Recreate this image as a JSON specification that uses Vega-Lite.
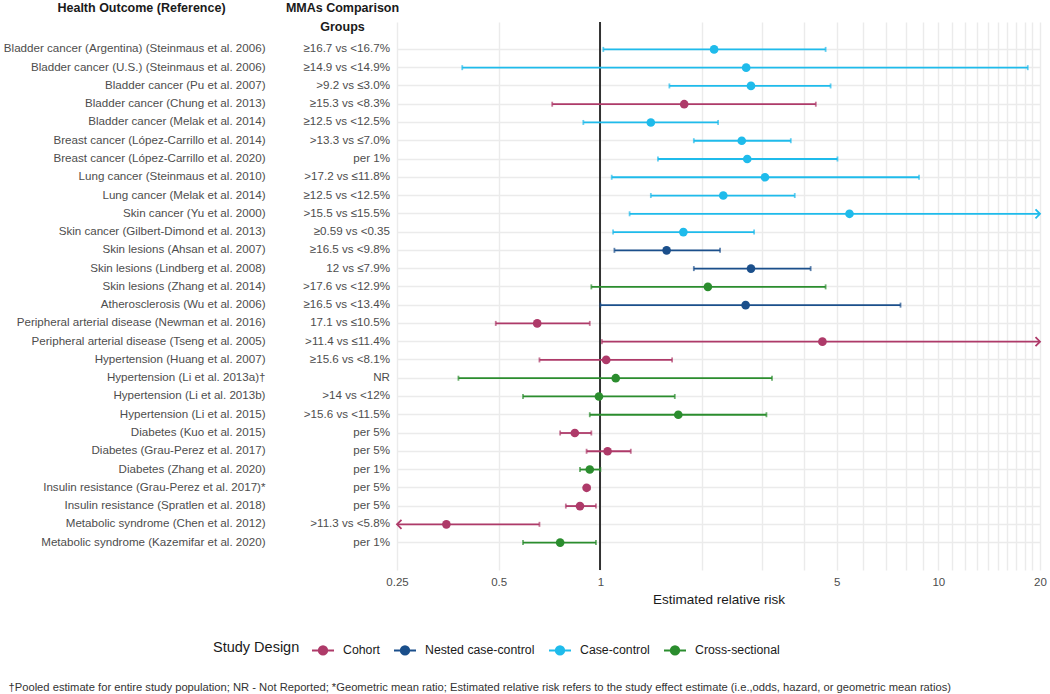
{
  "$schema": "https://vega.github.io/schema/vega-lite/v6.json",
  "width": 643,
  "height": 548,
  "autosize": {"type": "none"},
  "padding": {"left": 397, "top": 22, "right": 10, "bottom": 124},
  "background": "white",
  "config": {"font": "Liberation Sans", "view": {"stroke": null}},
  "data": {
    "values": [
      {"row": 1, "outcome": "Bladder cancer (Argentina) (Steinmaus et al. 2006)", "comparison": "≥16.7 vs <16.7%", "design": "Case-control", "est": 2.17, "lo": 1.02, "hi": 4.64},
      {"row": 2, "outcome": "Bladder cancer (U.S.) (Steinmaus et al. 2006)", "comparison": "≥14.9 vs <14.9%", "design": "Case-control", "est": 2.70, "lo": 0.39, "hi": 18.4},
      {"row": 3, "outcome": "Bladder cancer (Pu et al. 2007)", "comparison": ">9.2 vs ≤3.0%", "design": "Case-control", "est": 2.79, "lo": 1.60, "hi": 4.80},
      {"row": 4, "outcome": "Bladder cancer (Chung et al. 2013)", "comparison": "≥15.3 vs <8.3%", "design": "Cohort", "est": 1.77, "lo": 0.72, "hi": 4.34},
      {"row": 5, "outcome": "Bladder cancer (Melak et al. 2014)", "comparison": "≥12.5 vs <12.5%", "design": "Case-control", "est": 1.41, "lo": 0.89, "hi": 2.23},
      {"row": 6, "outcome": "Breast cancer (López-Carrillo et al. 2014)", "comparison": ">13.3 vs ≤7.0%", "design": "Case-control", "est": 2.62, "lo": 1.89, "hi": 3.66},
      {"row": 7, "outcome": "Breast cancer (López-Carrillo et al. 2020)", "comparison": "per 1%", "design": "Case-control", "est": 2.72, "lo": 1.48, "hi": 5.03},
      {"row": 8, "outcome": "Lung cancer (Steinmaus et al. 2010)", "comparison": ">17.2 vs ≤11.8%", "design": "Case-control", "est": 3.07, "lo": 1.08, "hi": 8.77},
      {"row": 9, "outcome": "Lung cancer (Melak et al. 2014)", "comparison": "≥12.5 vs <12.5%", "design": "Case-control", "est": 2.31, "lo": 1.41, "hi": 3.76},
      {"row": 10, "outcome": "Skin cancer (Yu et al. 2000)", "comparison": ">15.5 vs ≤15.5%", "design": "Case-control", "est": 5.46, "lo": 1.22, "hi": 25.0},
      {"row": 11, "outcome": "Skin cancer (Gilbert-Dimond et al. 2013)", "comparison": "≥0.59 vs <0.35", "design": "Case-control", "est": 1.76, "lo": 1.09, "hi": 2.85},
      {"row": 12, "outcome": "Skin lesions (Ahsan et al. 2007)", "comparison": "≥16.5 vs <9.8%", "design": "Nested case-control", "est": 1.57, "lo": 1.10, "hi": 2.26},
      {"row": 13, "outcome": "Skin lesions (Lindberg et al. 2008)", "comparison": "12 vs ≤7.9%", "design": "Nested case-control", "est": 2.79, "lo": 1.89, "hi": 4.19},
      {"row": 14, "outcome": "Skin lesions (Zhang et al. 2014)", "comparison": ">17.6 vs <12.9%", "design": "Cross-sectional", "est": 2.08, "lo": 0.94, "hi": 4.64},
      {"row": 15, "outcome": "Atherosclerosis (Wu et al. 2006)", "comparison": "≥16.5 vs <13.4%", "design": "Nested case-control", "est": 2.69, "lo": 1.00, "hi": 7.73},
      {"row": 16, "outcome": "Peripheral arterial disease (Newman et al. 2016)", "comparison": "17.1 vs ≤10.5%", "design": "Cohort", "est": 0.65, "lo": 0.49, "hi": 0.93},
      {"row": 17, "outcome": "Peripheral arterial disease (Tseng et al. 2005)", "comparison": ">11.4 vs ≤11.4%", "design": "Cohort", "est": 4.54, "lo": 1.01, "hi": 22.0},
      {"row": 18, "outcome": "Hypertension (Huang et al. 2007)", "comparison": "≥15.6 vs <8.1%", "design": "Cohort", "est": 1.04, "lo": 0.66, "hi": 1.63},
      {"row": 19, "outcome": "Hypertension (Li et al. 2013a)†", "comparison": "NR", "design": "Cross-sectional", "est": 1.11, "lo": 0.38, "hi": 3.22},
      {"row": 20, "outcome": "Hypertension (Li et al. 2013b)", "comparison": ">14 vs <12%", "design": "Cross-sectional", "est": 0.99, "lo": 0.59, "hi": 1.66},
      {"row": 21, "outcome": "Hypertension (Li et al. 2015)", "comparison": ">15.6 vs <11.5%", "design": "Cross-sectional", "est": 1.70, "lo": 0.93, "hi": 3.10},
      {"row": 22, "outcome": "Diabetes (Kuo et al. 2015)", "comparison": "per 5%", "design": "Cohort", "est": 0.84, "lo": 0.76, "hi": 0.94},
      {"row": 23, "outcome": "Diabetes (Grau-Perez et al. 2017)", "comparison": "per 5%", "design": "Cohort", "est": 1.05, "lo": 0.91, "hi": 1.23},
      {"row": 24, "outcome": "Diabetes (Zhang et al. 2020)", "comparison": "per 1%", "design": "Cross-sectional", "est": 0.93, "lo": 0.87, "hi": 1.00},
      {"row": 25, "outcome": "Insulin resistance (Grau-Perez et al. 2017)*", "comparison": "per 5%", "design": "Cohort", "est": 0.91, "lo": 0.90, "hi": 0.93},
      {"row": 26, "outcome": "Insulin resistance (Spratlen et al. 2018)", "comparison": "per 5%", "design": "Cohort", "est": 0.87, "lo": 0.79, "hi": 0.97},
      {"row": 27, "outcome": "Metabolic syndrome (Chen et al. 2012)", "comparison": ">11.3 vs <5.8%", "design": "Cohort", "est": 0.35, "lo": 0.20, "hi": 0.66},
      {"row": 28, "outcome": "Metabolic syndrome (Kazemifar et al. 2020)", "comparison": "per 1%", "design": "Cross-sectional", "est": 0.76, "lo": 0.59, "hi": 0.97}
    ]
  },
  "layer": [
    {
      "layer": [
        {
          "mark": {"type": "rule", "color": "#333333", "strokeWidth": 1},
          "encoding": {
            "x": {
              "datum": 1,
              "type": "quantitative",
              "scale": {"type": "log", "domain": [0.25, 20], "clamp": true, "nice": false, "zero": false},
              "axis": {
                "title": "Estimated relative risk",
                "values": [0.25, 0.5, 1, 2, 3, 4, 5, 6, 7, 8, 9, 10, 11, 12, 13, 14, 15, 16, 17, 18, 19, 20],
                "labelExpr": "indexof([0.25,0.5,1,5,10,20], datum.value) >= 0 ? format(datum.value, '~g') : ''",
                "labelFlush": false,
                "labelOverlap": false,
                "grid": true,
                "gridColor": "#EBEBEB",
                "gridWidth": 1.4,
                "ticks": false,
                "domain": false,
                "labelPadding": 6,
                "labelColor": "#4D4D4D",
                "labelFontSize": 11.5,
                "titleFontSize": 13.5,
                "titleFontWeight": "normal",
                "titleColor": "#1A1A1A",
                "titlePadding": 5
              }
            }
          }
        },
        {
          "mark": {"type": "rule", "strokeWidth": 1.8},
          "encoding": {
            "y": {
              "field": "outcome",
              "type": "nominal",
              "sort": {"field": "row", "op": "min"},
              "scale": {"type": "band", "paddingInner": 0, "paddingOuter": 1},
              "axis": {
                "title": "Health Outcome (Reference)",
                "titleAngle": 0,
                "titleX": -256,
                "titleY": -15,
                "titleAlign": "center",
                "titleBaseline": "middle",
                "titleFontWeight": "bold",
                "titleFontSize": 12.5,
                "titleColor": "#1A1A1A",
                "labelPadding": 132,
                "labelFontSize": 11.6,
                "labelColor": "#4D4D4D",
                "labelLimit": 400,
                "domain": false,
                "ticks": false,
                "grid": true,
                "gridColor": "#EBEBEB",
                "gridWidth": 1.4
              }
            },
            "x": {"field": "lo", "type": "quantitative"},
            "x2": {"field": "hi"},
            "color": {
              "field": "design",
              "type": "nominal",
              "scale": {
                "domain": ["Cohort", "Nested case-control", "Case-control", "Cross-sectional"],
                "range": ["#AE3A69", "#1B4F8B", "#1FBBEB", "#2B8D2E"]
              },
              "legend": {
                "title": "Study Design",
                "orient": "none",
                "legendX": -184,
                "legendY": 616,
                "direction": "horizontal",
                "titleOrient": "left",
                "titleFontSize": 14.5,
                "titleFontWeight": "normal",
                "titleColor": "#1A1A1A",
                "titlePadding": 11,
                "labelFontSize": 12.3,
                "labelColor": "#1A1A1A",
                "labelOffset": 8,
                "columnPadding": 10,
                "symbolType": "M-1,0H1M-0.38,0A0.38,0.38,0,1,1,0.38,0A0.38,0.38,0,1,1,-0.38,0Z",
                "symbolSize": 484,
                "symbolStrokeWidth": 2,
                "symbolOpacity": 1,
                "encode": {
                  "symbols": {
                    "update": {
                      "fill": {"scale": "color", "field": "value"},
                      "stroke": {"scale": "color", "field": "value"}
                    }
                  }
                }
              }
            }
          }
        },
        {
          "transform": [{"filter": "datum.lo >= 0.25"}],
          "mark": {"type": "tick", "thickness": 1.8, "size": 5, "orient": "vertical"},
          "encoding": {
            "y": {"field": "outcome", "type": "nominal", "sort": {"field": "row", "op": "min"}},
            "x": {"field": "lo", "type": "quantitative"},
            "color": {"field": "design", "type": "nominal"}
          }
        },
        {
          "transform": [{"filter": "datum.hi <= 20"}],
          "mark": {"type": "tick", "thickness": 1.8, "size": 5, "orient": "vertical"},
          "encoding": {
            "y": {"field": "outcome", "type": "nominal", "sort": {"field": "row", "op": "min"}},
            "x": {"field": "hi", "type": "quantitative"},
            "color": {"field": "design", "type": "nominal"}
          }
        },
        {
          "transform": [{"filter": "datum.hi > 20"}],
          "mark": {"type": "point", "shape": "M-1,-1L0,0L-1,1", "filled": false, "strokeWidth": 1.8, "size": 81, "opacity": 1},
          "encoding": {
            "y": {"field": "outcome", "type": "nominal", "sort": {"field": "row", "op": "min"}},
            "x": {"field": "hi", "type": "quantitative"},
            "color": {"field": "design", "type": "nominal"}
          }
        },
        {
          "transform": [{"filter": "datum.lo < 0.25"}],
          "mark": {"type": "point", "shape": "M1,-1L0,0L1,1", "filled": false, "strokeWidth": 1.8, "size": 81, "opacity": 1},
          "encoding": {
            "y": {"field": "outcome", "type": "nominal", "sort": {"field": "row", "op": "min"}},
            "x": {"field": "lo", "type": "quantitative"},
            "color": {"field": "design", "type": "nominal"}
          }
        },
        {
          "mark": {"type": "point", "filled": true, "size": 75, "opacity": 1},
          "encoding": {
            "y": {"field": "outcome", "type": "nominal", "sort": {"field": "row", "op": "min"}},
            "x": {"field": "est", "type": "quantitative"},
            "color": {"field": "design", "type": "nominal"}
          }
        }
      ]
    },
    {
      "mark": {"type": "text", "align": "right", "baseline": "middle", "dx": -7, "fontSize": 11.6, "color": "#4D4D4D"},
      "encoding": {
        "x": {
          "datum": 0.25,
          "type": "quantitative",
          "axis": {
            "orient": "bottom",
            "title": "†Pooled estimate for entire study population; NR - Not Reported; *Geometric mean ratio; Estimated relative risk refers to the study effect estimate (i.e.,odds, hazard, or geometric mean ratios)",
            "titleX": -389,
            "titleY": 117,
            "titleAlign": "left",
            "titleAnchor": null,
            "titleBaseline": "middle",
            "titleFontSize": 11.2,
            "titleFontWeight": "normal",
            "titleColor": "#333333",
            "labels": false,
            "ticks": false,
            "domain": false,
            "grid": false
          }
        },
        "y": {
          "field": "outcome",
          "type": "nominal",
          "sort": {"field": "row", "op": "min"},
          "axis": {
            "orient": "left",
            "title": ["MMAs Comparison", "Groups"],
            "titleAngle": 0,
            "titleX": -55,
            "titleY": -21,
            "titleAlign": "center",
            "titleBaseline": "top",
            "titleLineHeight": 19,
            "titleFontWeight": "bold",
            "titleFontSize": 12.5,
            "titleColor": "#1A1A1A",
            "labels": false,
            "ticks": false,
            "domain": false,
            "grid": false
          }
        },
        "text": {"field": "comparison"}
      }
    }
  ],
  "resolve": {"axis": {"x": "independent", "y": "independent"}}
}
